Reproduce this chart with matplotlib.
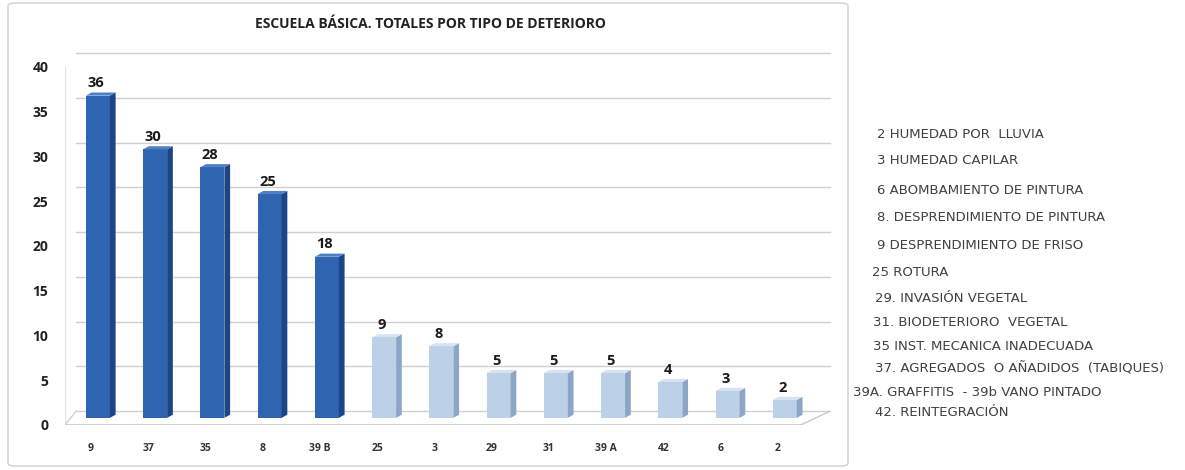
import matplotlib.pyplot as plt
from matplotlib.patches import FancyBboxPatch, Polygon

categories = ['9', '37', '35', '8', '39 B', '25', '3', '29', '31', '39 A', '42', '6', '2']
values = [36, 30, 28, 25, 18, 9, 8, 5, 5, 5, 4, 3, 2]
n_dark = 5
y_ticks = [0, 5, 10, 15, 20, 25, 30, 35, 40]
title = 'ESCUELA BÁSICA. TOTALES POR TIPO DE DETERIORO'

legend_lines = [
    '2 HUMEDAD POR  LLUVIA',
    '3 HUMEDAD CAPILAR',
    '6 ABOMBAMIENTO DE PINTURA',
    '8. DESPRENDIMIENTO DE PINTURA',
    '9 DESPRENDIMIENTO DE FRISO',
    '25 ROTURA',
    '29. INVASIÓN VEGETAL',
    '31. BIODETERIORO  VEGETAL',
    '35 INST. MECANICA INADECUADA',
    '37. AGREGADOS  O AÑADIDOS  (TABIQUES)',
    '39A. GRAFFITIS  - 39b VANO PINTADO',
    '42. REINTEGRACIÓN',
]
legend_x = [877, 877, 877, 877, 877, 872, 875, 873, 873, 875, 853, 875]
legend_y = [134, 161, 190, 217, 245, 273, 299, 323, 346, 369, 392, 413]

W, H = 1185, 470
fig = plt.figure(figsize=(W / 100, H / 100), dpi=100)
fig.patch.set_facecolor('white')

# chart frame
frame = FancyBboxPatch((8 / W, 4 / H), 840 / W, 463 / H,
                       boxstyle='round,pad=0,rounding_size=0.006',
                       transform=fig.transFigure, facecolor='white',
                       edgecolor='#cfcfcf', linewidth=1.0, zorder=-5)
fig.patches.append(frame)

ax = fig.add_axes([65 / W, 45 / H, 765 / W, 358 / H])
ax.set_zorder(2)
ax.set_xlim(-0.454, 12.91)
ax.set_ylim(0, 40)
ax.patch.set_alpha(0)
for s in ax.spines.values():
    s.set_visible(False)

# back wall gridlines (3D offset)
off = 1.55
for t in y_ticks:
    ax.plot([-0.26, 12.91], [t + off, t + off], color='#d0d0d0', lw=1.0, zorder=0,
            clip_on=False)
ax.plot([-0.454, -0.26], [0, off], color='#d0d0d0', lw=1.0, zorder=0)
ax.plot([-0.454, -0.454], [0, 40], color='#e2e2e2', lw=1.0, zorder=0)
ax.plot([-0.454, 12.4], [0, 0], color='#c8c8c8', lw=1.2, zorder=0)
ax.plot([12.4, 12.91], [0, off], color='#c8c8c8', lw=1.0, zorder=0)

w = 0.42
d = 0.1
dz = 0.35
base = 0.8
for i, v in enumerate(values):
    c = i + 0.12
    dark = i < n_dark
    front = '#2f64b0' if dark else '#bcd0e8'
    side = '#1d4585' if dark else '#8ea6c6'
    top_c = '#4d80c6' if dark else '#d6e3f2'
    ax.bar(c, v, width=w, bottom=base, color=front, edgecolor='none', zorder=3)
    r = c + w / 2
    ax.add_patch(Polygon([(r, base), (r + d, base + dz), (r + d, base + v + dz), (r, base + v)],
                         closed=True, facecolor=side, edgecolor='none', zorder=3))
    ax.add_patch(Polygon([(c - w / 2, base + v), (c - w / 2 + d, base + v + dz),
                          (r + d, base + v + dz), (r, base + v)],
                         closed=True, facecolor=top_c, edgecolor='none', zorder=3))
    ax.text(c - 0.04, base + v + 0.6, str(v), ha='center', va='bottom',
            fontsize=10.5, fontweight='bold', color='#1a1a1a', family='Open Sans', zorder=4)

ax.set_xticks(range(len(categories)))
ax.set_xticklabels(categories, fontsize=7.5, fontweight='bold', color='#333333', family='Open Sans')
ax.set_yticks(y_ticks)
ax.set_yticklabels([str(t) for t in y_ticks], fontsize=10, fontweight='bold',
                   color='#222222', family='Open Sans')
ax.tick_params(axis='x', length=0, pad=13)
ax.tick_params(axis='y', length=0, pad=12)

fig.text(430 / W, 1 - 24 / H, title, ha='center', va='center', fontsize=10,
         fontweight='bold', color='#222222', family='Open Sans')

for txt, x, y in zip(legend_lines, legend_x, legend_y):
    fig.text(x / W, 1 - y / H, txt, ha='left', va='center', fontsize=9.5,
             color='#404040', family='DejaVu Sans')

fig.savefig('out.png', dpi=100, facecolor='white')
